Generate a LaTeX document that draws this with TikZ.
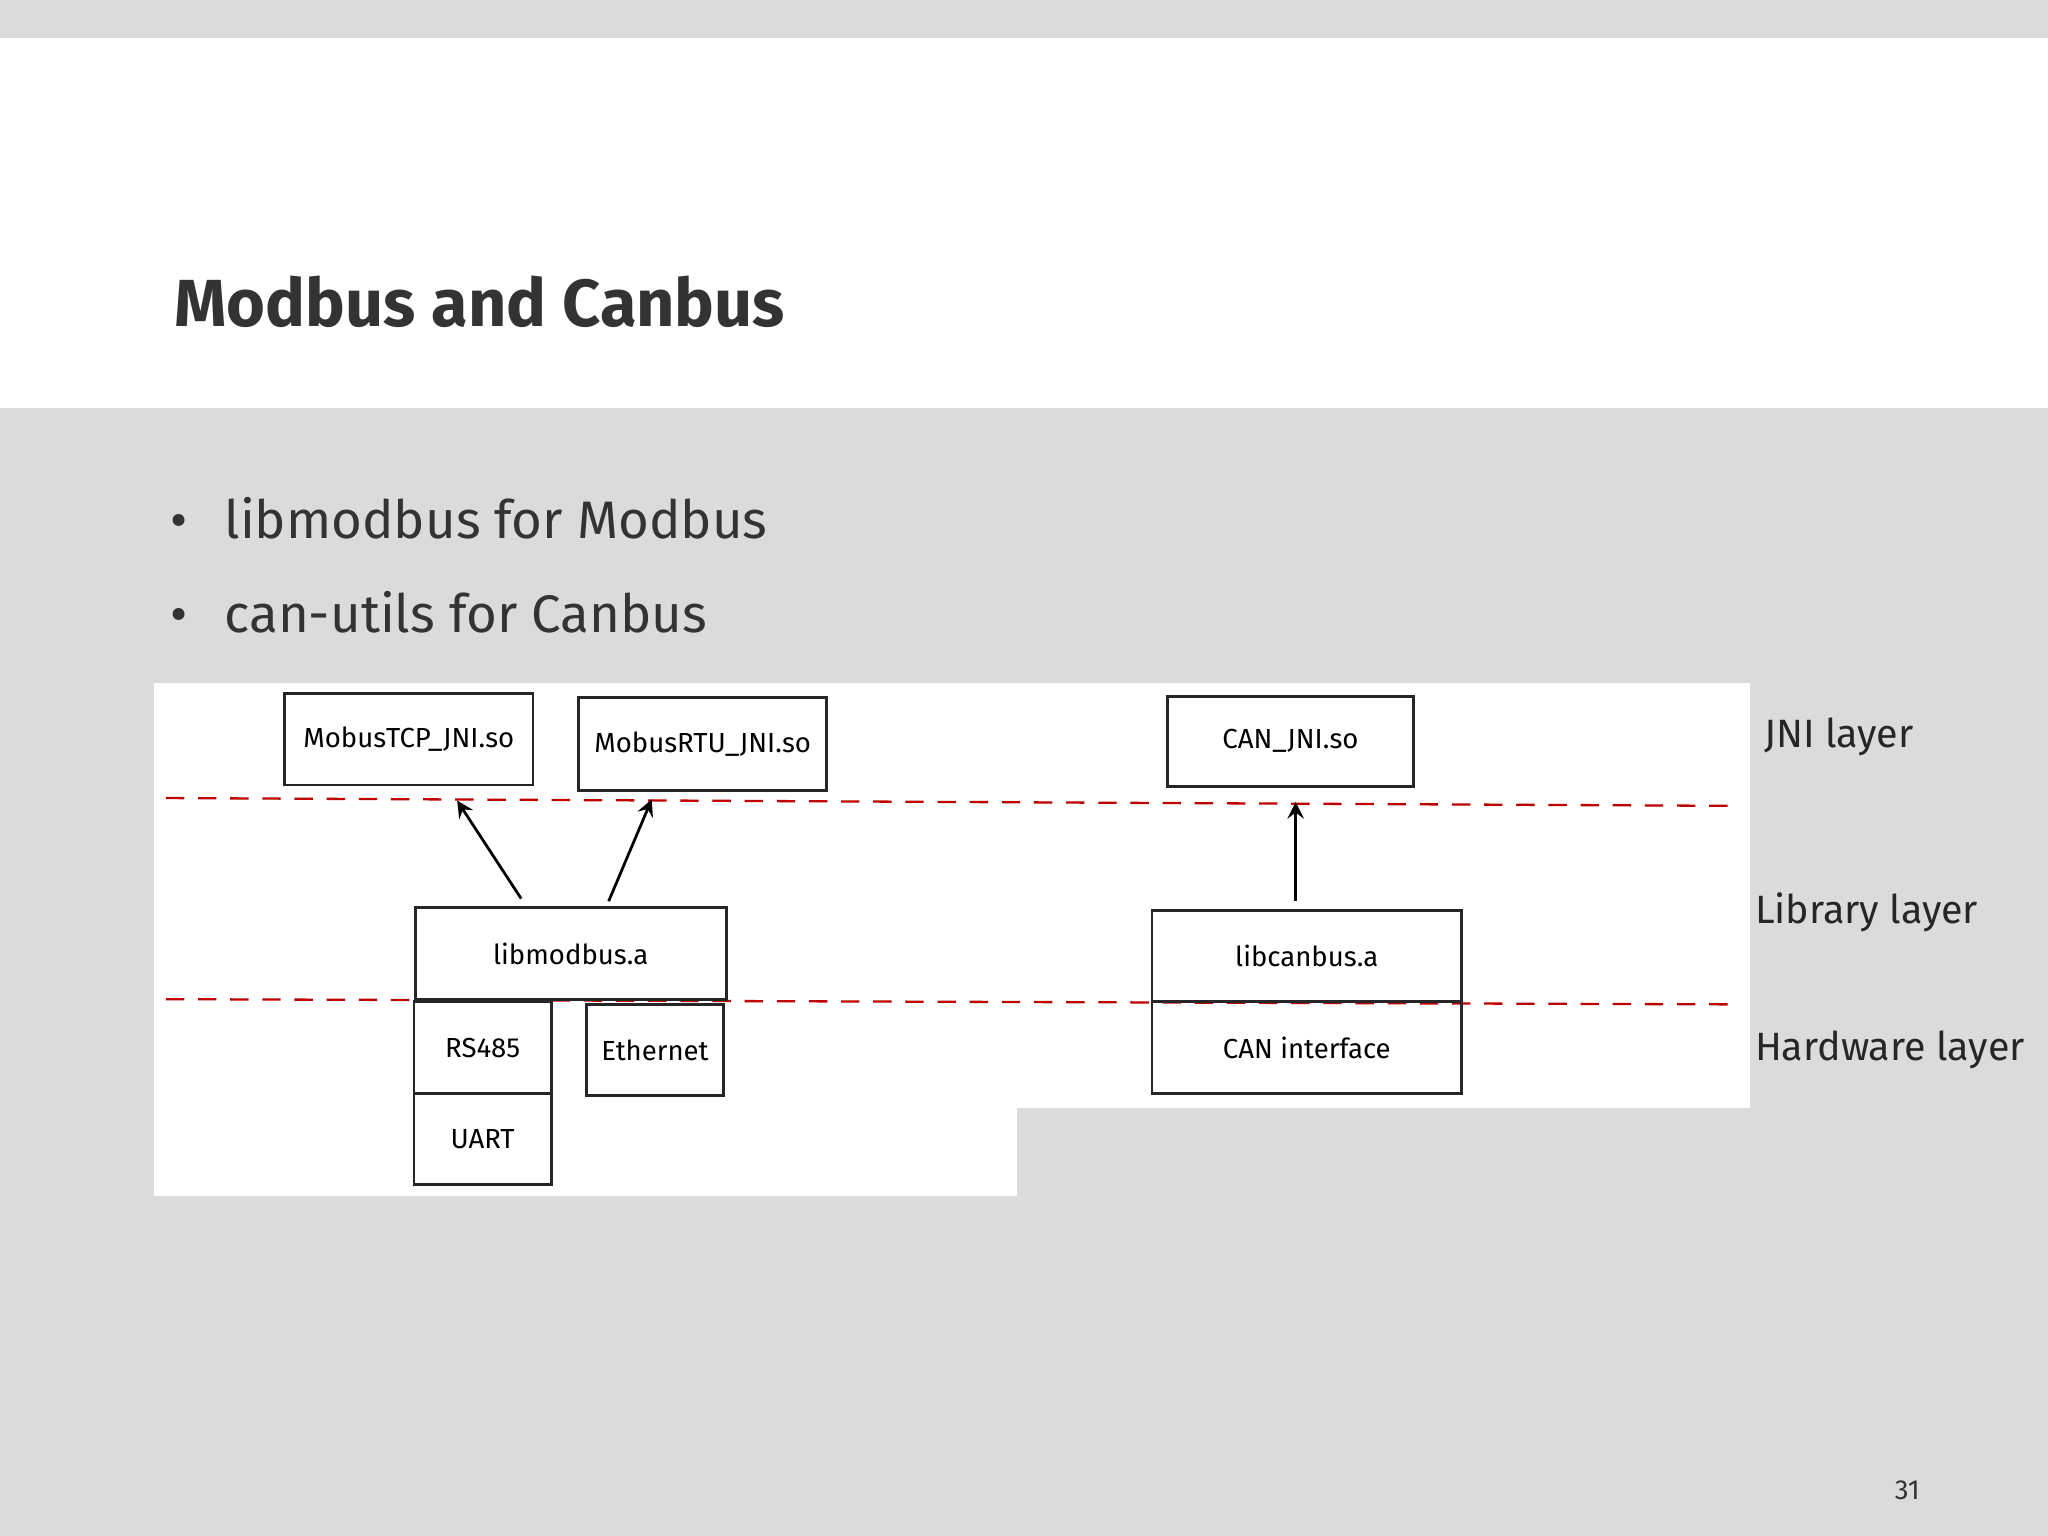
\documentclass[tikz,border=0pt]{standalone}
\usepackage{fontspec}
\setmainfont{Fira Sans}
\begin{document}
\begin{tikzpicture}[x=0.01cm,y=-0.01cm,
  box/.style={draw=black!85,line width=0.6pt,inner sep=0pt,font=\fontsize{6}{7}\selectfont},
  reddash/.style={draw=red!75!black,line width=0.5pt,dash pattern=on 4pt off 3pt},
  arr/.style={->,line width=0.6pt,>=stealth},
  lay/.style={anchor=base west,inner sep=0pt,font=\fontsize{8.6}{10}\selectfont,text=black!85}]
\useasboundingbox (0,0) rectangle (1568,1176);
\fill[gray!28] (0,0) rectangle (1568,1176);
\fill[white] (0,29) rectangle (1568,312);
\fill[white] (118,523) rectangle (779,916);
\fill[white] (779,523) rectangle (1340,848);
\node[anchor=base west,inner sep=0pt,font=\bfseries\fontsize{14.5}{17}\selectfont,text=black!80] (t) at (133,250) {Modbus and Canbus};
\node[anchor=base west,inner sep=0pt,font=\fontsize{11.5}{14}\selectfont,text=black!80] (b1) at (130,412) {\textbullet\hspace{8pt}libmodbus for Modbus};
\node[anchor=base west,inner sep=0pt,font=\fontsize{11.5}{14}\selectfont,text=black!80] (b2) at (130,484) {\textbullet\hspace{8pt}can-utils for Canbus};
\draw[reddash] (127,611) -- (1328,617);
\draw[reddash] (127,765) -- (1328,769);
\node[box,minimum width=1.90cm,minimum height=0.70cm] (tcp) at (313,566) {MobusTCP\_JNI.so};
\node[box,minimum width=1.90cm,minimum height=0.71cm] (rtu) at (538,569.5) {MobusRTU\_JNI.so};
\node[box,minimum width=1.88cm,minimum height=0.69cm] (can) at (988,567.5) {CAN\_JNI.so};
\node[box,minimum width=2.38cm,minimum height=0.70cm] (lm) at (437,730) {libmodbus.a};
\node[box,minimum width=1.05cm,minimum height=0.70cm] (rs) at (369.5,802) {RS485};
\node[box,minimum width=1.05cm,minimum height=0.70cm] (eth) at (501.5,804) {Ethernet};
\node[box,minimum width=1.05cm,minimum height=0.70cm] (uart) at (369.5,872) {UART};
\node[box,minimum width=2.37cm,minimum height=0.70cm] (lc) at (1000.5,732) {libcanbus.a};
\node[box,minimum width=2.37cm,minimum height=0.70cm] (ci) at (1000.5,802) {CAN interface};
\coordinate (a1s) at (399,688); \coordinate (a1e) at (350,613);
\coordinate (a2s) at (466,690); \coordinate (a2e) at (499,612);
\coordinate (a3s) at (992,690); \coordinate (a3e) at (992,614);
\draw[arr] (a1s) -- (a1e);
\draw[arr] (a2s) -- (a2e);
\draw[arr] (a3s) -- (a3e);
\node[lay] (l1) at (1350,572) {JNI layer};
\node[lay] (l2) at (1343,707) {Library layer};
\node[lay] (l3) at (1343,812) {Hardware layer};
\node[anchor=base west,inner sep=0pt,font=\fontsize{6}{7}\selectfont,text=black!80] (pg) at (1450,1148) {31};
\end{tikzpicture}
\end{document}
